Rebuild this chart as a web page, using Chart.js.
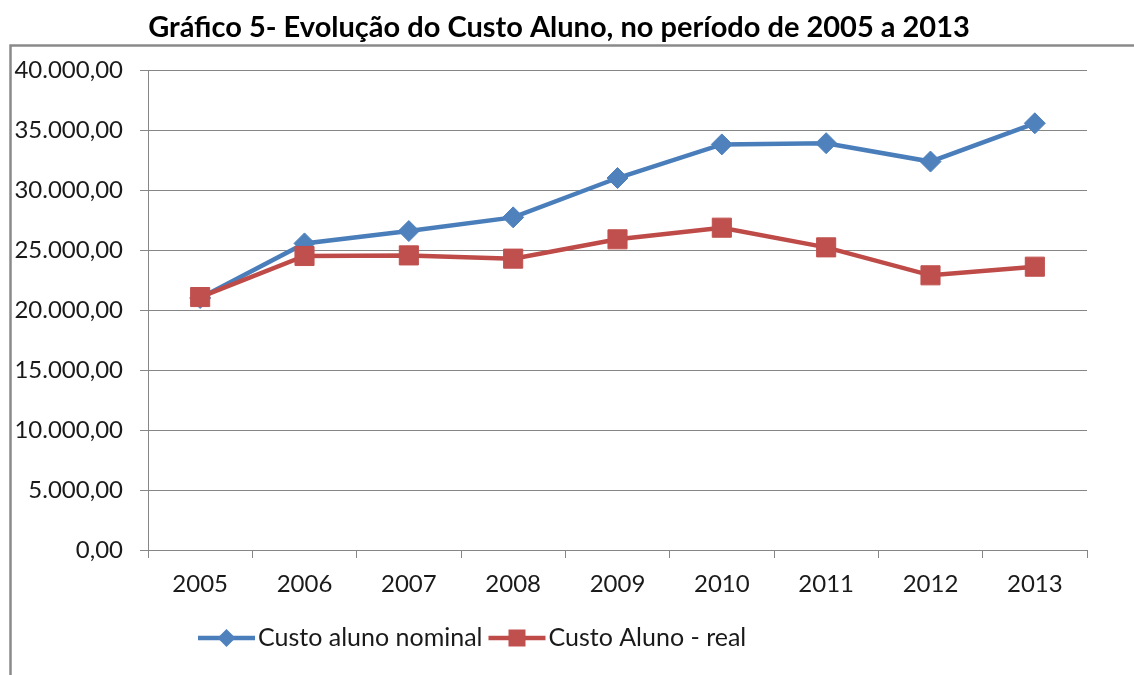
<!DOCTYPE html>
<html>
<head>
<meta charset="utf-8">
<script src="https://cdn.jsdelivr.net/npm/chart.js@4/dist/chart.umd.min.js"></script>
<style>
  html, body { margin: 0; padding: 0; background: #ffffff; }
  #wrap { position: relative; width: 1134px; height: 675px; overflow: hidden; }
  canvas { display: block; }
</style>
</head>
<body>
<div id="wrap"><canvas id="c" width="1134" height="675"></canvas></div>
<script>
const titleText = 'Gráfico 5- Evolução do Custo Aluno, no período de 2005 a 2013';
const categories = ['2005', '2006', '2007', '2008', '2009', '2010', '2011', '2012', '2013'];
const seriesNames = ['Custo aluno nominal', 'Custo Aluno - real'];
const nominalValues = [21000, 25550, 26580, 27720, 31000, 33800, 33900, 32370, 35560];
const realValues = [21080, 24500, 24550, 24280, 25890, 26860, 25220, 22890, 23610];
const yTickValues = [0, 5000, 10000, 15000, 20000, 25000, 30000, 35000, 40000];
const yTickLabels = ['0,00', '5.000,00', '10.000,00', '15.000,00', '20.000,00', '25.000,00', '30.000,00', '35.000,00', '40.000,00'];

const FONT = 'Lato, "Open Sans", "Liberation Sans", sans-serif';
const GRID = '#868686';
const TEXT = '#1a1a1a';
const BLUE_LINE = '#4A7EBB', BLUE_PT = '#4F81BD';
const RED_LINE = '#BE4B48', RED_PT = '#C0504D';

const framePlugin = {
  id: 'frame',
  beforeDraw(chart) {
    const ctx = chart.ctx;
    ctx.save();
    ctx.strokeStyle = '#8a8a8a';
    ctx.lineWidth = 2.5;
    ctx.beginPath();
    ctx.moveTo(10.5, 680);
    ctx.lineTo(10.5, 45.5);
    ctx.lineTo(1140, 45.5);
    ctx.stroke();
    ctx.restore();
  },
  afterDraw(chart) {
    const ctx = chart.ctx;
    ctx.save();
    // title
    ctx.fillStyle = '#000000';
    ctx.font = 'bold 29px ' + FONT;
    ctx.textAlign = 'center';
    ctx.textBaseline = 'middle';
    ctx.fillText(titleText, 559, 28);
    // legend
    ctx.font = '25px ' + FONT;
    ctx.textAlign = 'left';
    let x = 198;
    const y = 638;
    chart.data.datasets.forEach((ds) => {
      ctx.strokeStyle = ds.borderColor;
      ctx.lineWidth = 4.5;
      ctx.beginPath(); ctx.moveTo(x, y); ctx.lineTo(x + 57, y); ctx.stroke();
      const cx = x + 28.5;
      ctx.fillStyle = ds.pointBackgroundColor;
      ctx.beginPath();
      if (ds.pointStyle === 'rectRot') {
        ctx.moveTo(cx, y - 9); ctx.lineTo(cx + 9, y); ctx.lineTo(cx, y + 9); ctx.lineTo(cx - 9, y); ctx.closePath();
      } else {
        ctx.rect(cx - 8.5, y - 8.5, 17, 17);
      }
      ctx.fill();
      ctx.fillStyle = TEXT;
      ctx.fillText(ds.label, x + 60, y);
      x = x + 60 + ctx.measureText(ds.label).width + 6;
    });
    ctx.restore();
  }
};

new Chart(document.getElementById('c'), {
  type: 'line',
  data: {
    labels: categories,
    datasets: [
      {
        label: seriesNames[0], data: nominalValues, order: 1,
        borderColor: BLUE_LINE, borderWidth: 4.5, tension: 0,
        pointStyle: 'rectRot', pointRadius: 10.5, pointBackgroundColor: BLUE_PT, pointBorderColor: BLUE_PT, pointBorderWidth: 1
      },
      {
        label: seriesNames[1], data: realValues, order: 0,
        borderColor: RED_LINE, borderWidth: 4.5, tension: 0,
        pointStyle: 'rect', pointRadius: 13.5, pointBackgroundColor: RED_PT, pointBorderColor: RED_PT, pointBorderWidth: 1
      }
    ]
  },
  options: {
    responsive: false,
    devicePixelRatio: 1,
    animation: false,
    events: [],
    layout: { padding: { left: 0, right: 47, top: 70, bottom: 59 } },
    plugins: {
      title: { display: false },
      legend: { display: false },
      tooltip: { enabled: false }
    },
    scales: {
      x: {
        offset: true,
        grid: { display: true, drawOnChartArea: false, drawTicks: true, tickLength: 8, color: GRID, offset: true },
        border: { display: true, color: GRID, width: 1 },
        ticks: { color: TEXT, font: { family: FONT, size: 24 }, padding: 12, maxRotation: 0, autoSkip: false },
        afterFit(scale) { scale.height = 66; }
      },
      y: {
        min: 0, max: 40000,
        afterBuildTicks(scale) { scale.ticks = yTickValues.map(v => ({ value: v })); },
        grid: { display: true, drawTicks: true, tickLength: 8, color: GRID, lineWidth: 1 },
        border: { display: true, color: GRID, width: 1 },
        ticks: {
          color: TEXT, font: { family: FONT, size: 24 }, padding: 17,
          callback(value) { const i = yTickValues.indexOf(value); return i >= 0 ? yTickLabels[i] : ''; }
        },
        afterFit(scale) { scale.width = 148; }
      }
    }
  },
  plugins: [framePlugin]
});
</script>
</body>
</html>
